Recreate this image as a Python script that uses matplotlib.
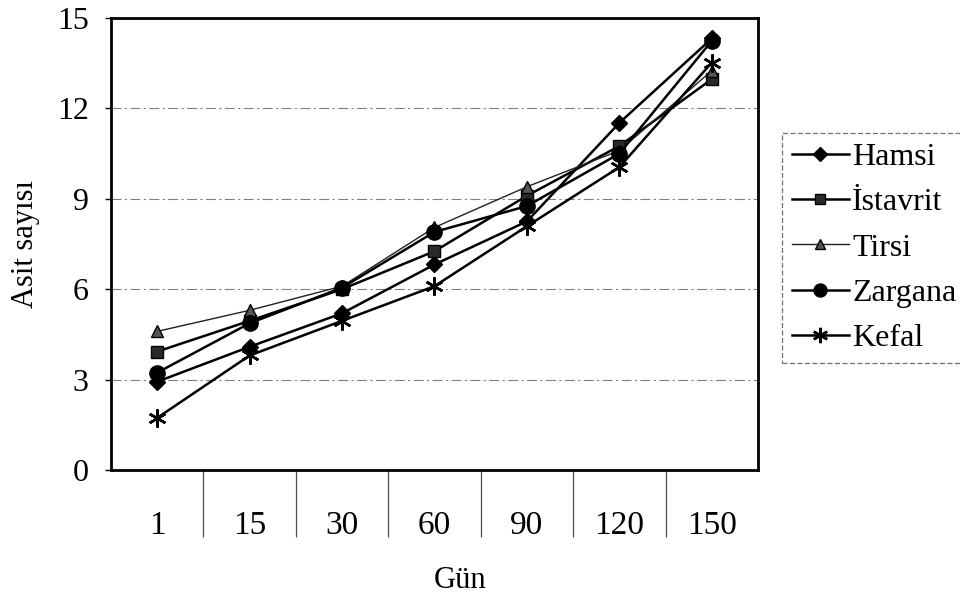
import numpy as np
from matplotlib import pyplot as plt
from matplotlib.ticker import FixedLocator

plt.rcParams['font.family'] = ['Liberation Serif', 'DejaVu Serif']

# gün (kategori) ve asit sayısı değerleri
gunler = ['1', '15', '30', '60', '90', '120', '150']
hamsi = [2.93, 4.09, 5.20, 6.82, 8.25, 11.52, 14.32]
istavrit = [3.93, 4.95, 6.00, 7.26, 9.10, 10.75, 12.97]
tirsi = [4.60, 5.30, 6.10, 8.05, 9.40, 10.60, 13.25]
zargana = [3.23, 4.87, 6.05, 7.90, 8.76, 10.50, 14.24]
kefal = [1.73, 3.80, 4.95, 6.10, 8.09, 10.05, 13.52]

fig = plt.figure(figsize=(9.6, 6.02), dpi=100)
ax = fig.add_axes([111 / 960, 1 - 470 / 602, 647 / 960, 452 / 602])

x = np.arange(len(gunler))
ax.plot(x, hamsi, color='black', lw=1.8, marker='D', ms=8, mfc='black', mec='black', label='Hamsi', zorder=3)
ax.plot(x, istavrit, color='black', lw=1.8, marker='s', ms=9, mfc='#2a2a2a', mec='black', label='İstavrit', zorder=3)
ax.plot(x, tirsi, color='#222222', lw=1.0, marker='^', ms=9, mfc='#555555', mec='black', label='Tirsi', zorder=3)
ax.plot(x, zargana, color='black', lw=1.8, marker='o', ms=11, mfc='black', mec='black', label='Zargana', zorder=3)
ax.plot(x, kefal, color='black', lw=1.8, marker=(6, 2, 0), ms=13, mew=1.8, mec='black', label='Kefal', zorder=3)

ax.set_xlim(-0.5, len(gunler) - 0.5)
ax.set_ylim(0, 15)
ax.set_yticks([0, 3, 6, 9, 12, 15])
ax.set_xticks(x)
ax.set_xticklabels(gunler)
# kategori aralarındaki ayırıcı çizgiler
ax.xaxis.set_minor_locator(FixedLocator(np.arange(0.5, len(gunler) - 1, 1)))

# kesikli yatay kılavuz çizgileri
for yv in [3, 6, 9, 12]:
    ax.axhline(yv, color='0.5', lw=0.8, ls=(0, (9, 3, 2, 3)), zorder=1)

for sp in ax.spines.values():
    sp.set_linewidth(2.0)

ax.tick_params(axis='y', labelsize=23, length=4, width=1, pad=12, direction='out')
ax.tick_params(axis='x', which='major', labelsize=24, length=0, pad=29)
ax.tick_params(axis='x', which='minor', length=48, width=0.9, color='0.3', direction='out')

ax.set_ylabel('Asit sayısı', fontsize=22, labelpad=12)
fig.text(460 / 960, 1 - 580 / 602, 'Gün', fontsize=22, ha='center', va='center')

leg = fig.legend(loc='upper left', bbox_to_anchor=(782 / 960, 1 - 133 / 602),
                 fontsize=23, frameon=True, fancybox=False, handlelength=1.8,
                 handletextpad=0.1, labelspacing=0.5, borderpad=0.3, borderaxespad=0,
                 markerscale=0.85)
leg.get_frame().set_edgecolor('0.3')
leg.get_frame().set_linewidth(0.9)
leg.get_frame().set_linestyle((0, (4, 2)))

fig.savefig('out.png', dpi=100)
